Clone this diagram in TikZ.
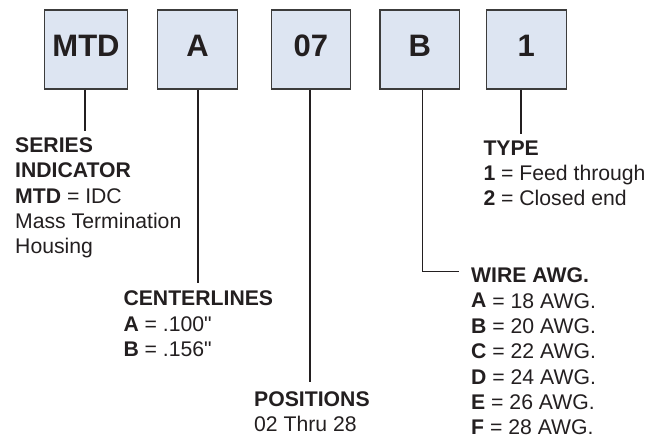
\documentclass[tikz,border=0pt]{standalone}
\usepackage{fontspec}
\setmainfont{Liberation Sans}
\definecolor{boxfill}{RGB}{221,229,242}
\definecolor{boxline}{RGB}{60,60,60}
\definecolor{ink}{RGB}{35,31,32}
\begin{document}
\begin{tikzpicture}[x=1pt,y=-1pt,
  codebox/.style={draw=boxline,line width=1.1pt,fill=boxfill,minimum width=79.5pt,minimum height=79pt,
    inner sep=0pt,text height=22pt,text depth=7pt,font=\fontsize{31}{31}\selectfont\bfseries,text=ink},
  lbl/.style={anchor=base west,inner sep=0pt,align=left,text=ink,font=\fontsize{21.2}{25.4}\selectfont},
  conn/.style={draw=ink,line width=1.6pt}]
\useasboundingbox (0,0) rectangle (662,438);
\node[codebox,minimum width=83.4pt] (mtd) at (86,49.5) {MTD};
\node[codebox] (a) at (197.5,49.5) {A};
\node[codebox] (pos) at (310.8,49.5) {07};
\node[codebox] (b) at (419.7,49.5) {B};
\node[codebox] (one) at (526.3,49.5) {1};
\coordinate (mtdend) at (84.7,131);
\coordinate (aend) at (198,283);
\coordinate (posend) at (310,382);
\coordinate (bcorner) at (422.3,271.7);
\coordinate (bend) at (459,271.7);
\coordinate (typeend) at (521,134);
\draw[conn] (mtd.south -| mtdend) -- (mtdend);
\draw[conn] (a.south -| aend) -- (aend);
\draw[conn] (pos.south -| posend) -- (posend);
\draw[conn] (b.south -| bcorner) -- (bcorner) -- (bend);
\draw[conn] (one.south -| typeend) -- (typeend);
% anchors at the baseline of the last line
\node[lbl] (series) at (15,254) {\textbf{SERIES}\\\textbf{INDICATOR}\\\textbf{MTD} = IDC\\Mass Termination\\Housing};
\node[lbl] (center) at (123.3,356.5) {\textbf{CENTERLINES}\\\textbf{A} = .100\textquotedbl\\\textbf{B} = .156\textquotedbl};
\node[lbl] (positions) at (254,431.7) {\textbf{POSITIONS}\\02 Thru 28};
\node[lbl] (type) at (483.3,206) {\textbf{TYPE}\\\textbf{1} = Feed through\\\textbf{2} = Closed end};
\node[lbl] (wire) at (471,435) {\textbf{WIRE AWG.}\\\textbf{A} = 18 AWG.\\\textbf{B} = 20 AWG.\\\textbf{C} = 22 AWG.\\\textbf{D} = 24 AWG.\\\textbf{E} = 26 AWG.\\\textbf{F} = 28 AWG.};
\end{tikzpicture}
\end{document}
